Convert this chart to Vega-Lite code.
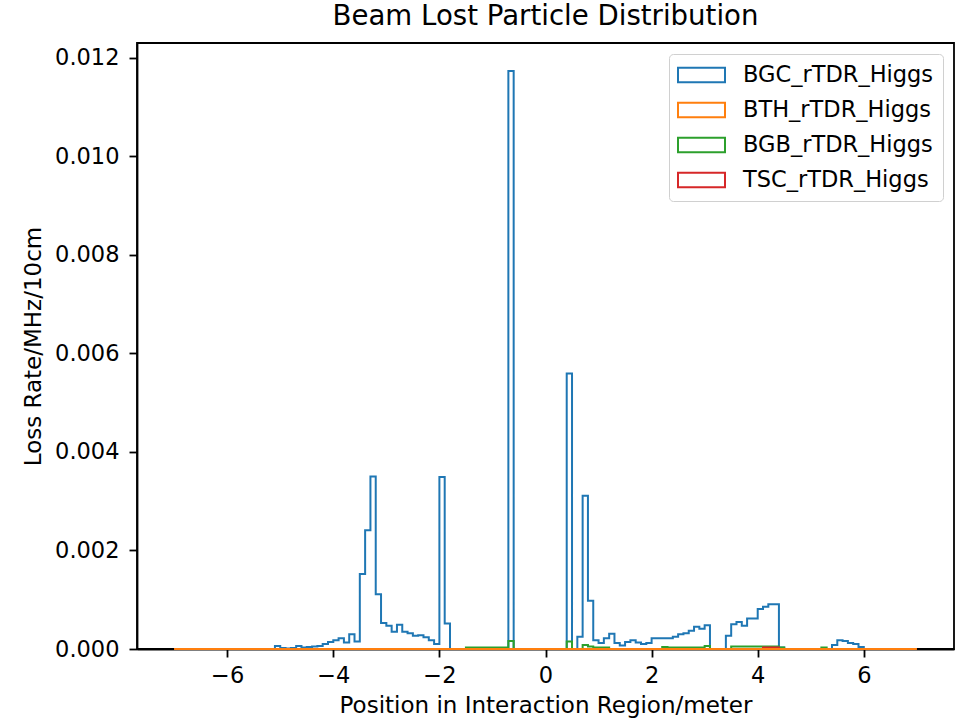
{
"$schema": "https://vega.github.io/schema/vega-lite/v6.json",
"autosize": {"type": "none"},
"padding": {"left": 137, "top": 43, "right": 12, "bottom": 72},
"width": 817,
"height": 606,
"title": {"text": "Beam Lost Particle Distribution", "fontSize": 27.6, "font": "DejaVu Sans", "fontWeight": "normal", "offset": 12, "anchor": "middle", "color": "black"},
"data": {"values": [
{"x":-7.0,"BGC":0,"BTH":0,"BGB":0,"TSC":0},
{"x":-6.9,"BGC":0,"BTH":0,"BGB":0,"TSC":0},
{"x":-6.8,"BGC":0,"BTH":0,"BGB":0,"TSC":0},
{"x":-6.7,"BGC":0,"BTH":0,"BGB":0,"TSC":0},
{"x":-6.6,"BGC":0,"BTH":0,"BGB":0,"TSC":0},
{"x":-6.5,"BGC":0,"BTH":0,"BGB":0,"TSC":0},
{"x":-6.4,"BGC":0,"BTH":0,"BGB":0,"TSC":0},
{"x":-6.3,"BGC":0,"BTH":0,"BGB":0,"TSC":0},
{"x":-6.2,"BGC":0,"BTH":0,"BGB":0,"TSC":0},
{"x":-6.1,"BGC":0,"BTH":0,"BGB":0,"TSC":0},
{"x":-6.0,"BGC":0,"BTH":0,"BGB":0,"TSC":0},
{"x":-5.9,"BGC":0,"BTH":0,"BGB":0,"TSC":0},
{"x":-5.8,"BGC":0,"BTH":0,"BGB":0,"TSC":0},
{"x":-5.7,"BGC":0,"BTH":0,"BGB":0,"TSC":0},
{"x":-5.6,"BGC":0,"BTH":0,"BGB":0,"TSC":0},
{"x":-5.5,"BGC":0,"BTH":0,"BGB":0,"TSC":0},
{"x":-5.4,"BGC":0,"BTH":0,"BGB":0,"TSC":0},
{"x":-5.3,"BGC":0,"BTH":0,"BGB":0,"TSC":0},
{"x":-5.2,"BGC":0,"BTH":0,"BGB":0,"TSC":0},
{"x":-5.1,"BGC":0.00006,"BTH":0,"BGB":0,"TSC":0},
{"x":-5.0,"BGC":0.00002,"BTH":0,"BGB":0,"TSC":0},
{"x":-4.9,"BGC":0.00001,"BTH":0,"BGB":0,"TSC":0},
{"x":-4.8,"BGC":0.00002,"BTH":0,"BGB":0,"TSC":0},
{"x":-4.7,"BGC":0.00006,"BTH":0,"BGB":0,"TSC":0},
{"x":-4.6,"BGC":0.00003,"BTH":0,"BGB":0,"TSC":0},
{"x":-4.5,"BGC":0.00004,"BTH":0,"BGB":0,"TSC":0},
{"x":-4.4,"BGC":0.00005,"BTH":0,"BGB":0,"TSC":0},
{"x":-4.3,"BGC":0.00006,"BTH":0,"BGB":0,"TSC":0},
{"x":-4.2,"BGC":0.0001,"BTH":0,"BGB":0,"TSC":0},
{"x":-4.1,"BGC":0.00014,"BTH":0,"BGB":0,"TSC":0},
{"x":-4.0,"BGC":0.00018,"BTH":0,"BGB":0,"TSC":0},
{"x":-3.9,"BGC":0.00022,"BTH":0,"BGB":0,"TSC":0},
{"x":-3.8,"BGC":0.00013,"BTH":0,"BGB":0,"TSC":0},
{"x":-3.7,"BGC":0.0003,"BTH":0,"BGB":0,"TSC":0},
{"x":-3.6,"BGC":0.00015,"BTH":0,"BGB":0,"TSC":0},
{"x":-3.5,"BGC":0.00152,"BTH":0,"BGB":0,"TSC":0},
{"x":-3.4,"BGC":0.00241,"BTH":0,"BGB":0,"TSC":0},
{"x":-3.3,"BGC":0.0035,"BTH":0,"BGB":0,"TSC":0},
{"x":-3.2,"BGC":0.00111,"BTH":0,"BGB":0,"TSC":0},
{"x":-3.1,"BGC":0.00053,"BTH":0,"BGB":0,"TSC":0},
{"x":-3.0,"BGC":0.00047,"BTH":0,"BGB":0,"TSC":0},
{"x":-2.9,"BGC":0.00035,"BTH":0,"BGB":0,"TSC":0},
{"x":-2.8,"BGC":0.00049,"BTH":0,"BGB":0,"TSC":0},
{"x":-2.7,"BGC":0.00035,"BTH":0,"BGB":0,"TSC":0},
{"x":-2.6,"BGC":0.00032,"BTH":0,"BGB":0,"TSC":0},
{"x":-2.5,"BGC":0.00027,"BTH":0,"BGB":0,"TSC":0},
{"x":-2.4,"BGC":0.00028,"BTH":0,"BGB":0,"TSC":0},
{"x":-2.3,"BGC":0.00024,"BTH":0,"BGB":0,"TSC":0},
{"x":-2.2,"BGC":0.00018,"BTH":0,"BGB":0,"TSC":0},
{"x":-2.1,"BGC":0.0001,"BTH":0,"BGB":0,"TSC":0},
{"x":-2.0,"BGC":0.00349,"BTH":0,"BGB":0,"TSC":0},
{"x":-1.9,"BGC":0.00052,"BTH":0,"BGB":0,"TSC":0},
{"x":-1.8,"BGC":0,"BTH":0,"BGB":0,"TSC":0},
{"x":-1.7,"BGC":0,"BTH":0,"BGB":0,"TSC":0},
{"x":-1.6,"BGC":0,"BTH":0,"BGB":0,"TSC":0},
{"x":-1.5,"BGC":0,"BTH":0,"BGB":0.00003,"TSC":0},
{"x":-1.4,"BGC":0,"BTH":0,"BGB":0.00003,"TSC":0},
{"x":-1.3,"BGC":0,"BTH":0,"BGB":0.00003,"TSC":0},
{"x":-1.2,"BGC":0,"BTH":0,"BGB":0.00003,"TSC":0},
{"x":-1.1,"BGC":0,"BTH":0,"BGB":0.00003,"TSC":0},
{"x":-1.0,"BGC":0,"BTH":0,"BGB":0.00003,"TSC":0},
{"x":-0.9,"BGC":0,"BTH":0,"BGB":0.00003,"TSC":0},
{"x":-0.8,"BGC":0,"BTH":0,"BGB":0.00003,"TSC":0},
{"x":-0.7,"BGC":0.01173,"BTH":0,"BGB":0.00016,"TSC":0},
{"x":-0.6,"BGC":0,"BTH":0,"BGB":0,"TSC":0},
{"x":-0.5,"BGC":0,"BTH":0,"BGB":0,"TSC":0},
{"x":-0.4,"BGC":0,"BTH":0,"BGB":0,"TSC":0},
{"x":-0.3,"BGC":0,"BTH":0,"BGB":0,"TSC":0},
{"x":-0.2,"BGC":0,"BTH":0,"BGB":0,"TSC":0},
{"x":-0.1,"BGC":0,"BTH":0,"BGB":0,"TSC":0},
{"x":0.0,"BGC":0,"BTH":0,"BGB":0,"TSC":0},
{"x":0.1,"BGC":0,"BTH":0,"BGB":0,"TSC":0},
{"x":0.2,"BGC":0,"BTH":0,"BGB":0,"TSC":0},
{"x":0.3,"BGC":0,"BTH":0,"BGB":0,"TSC":0},
{"x":0.4,"BGC":0.00559,"BTH":0,"BGB":0.00015,"TSC":0},
{"x":0.5,"BGC":0,"BTH":0,"BGB":0,"TSC":0},
{"x":0.6,"BGC":0.00025,"BTH":0,"BGB":0,"TSC":0},
{"x":0.7,"BGC":0.00311,"BTH":0,"BGB":0.00008,"TSC":0},
{"x":0.8,"BGC":0.00098,"BTH":0,"BGB":0.00005,"TSC":0},
{"x":0.9,"BGC":0.00018,"BTH":0,"BGB":0.00003,"TSC":0},
{"x":1.0,"BGC":0.00012,"BTH":0,"BGB":0.00003,"TSC":0},
{"x":1.1,"BGC":0.00022,"BTH":0,"BGB":0.00003,"TSC":0},
{"x":1.2,"BGC":0.00031,"BTH":0,"BGB":0,"TSC":0},
{"x":1.3,"BGC":0.00012,"BTH":0,"BGB":0,"TSC":0},
{"x":1.4,"BGC":0.00007,"BTH":0,"BGB":0,"TSC":0},
{"x":1.5,"BGC":0.00014,"BTH":0,"BGB":0,"TSC":0},
{"x":1.6,"BGC":0.00018,"BTH":0,"BGB":0,"TSC":0},
{"x":1.7,"BGC":0.00013,"BTH":0,"BGB":0,"TSC":0},
{"x":1.8,"BGC":0.0001,"BTH":0,"BGB":0,"TSC":0},
{"x":1.9,"BGC":0.00012,"BTH":0,"BGB":0,"TSC":0},
{"x":2.0,"BGC":0.00022,"BTH":0,"BGB":0,"TSC":0},
{"x":2.1,"BGC":0.00022,"BTH":0,"BGB":0,"TSC":0},
{"x":2.2,"BGC":0.00022,"BTH":0,"BGB":0.00004,"TSC":0},
{"x":2.3,"BGC":0.00022,"BTH":0,"BGB":0.00003,"TSC":0},
{"x":2.4,"BGC":0.00025,"BTH":0,"BGB":0.00003,"TSC":0},
{"x":2.5,"BGC":0.0003,"BTH":0,"BGB":0.00003,"TSC":0},
{"x":2.6,"BGC":0.00032,"BTH":0,"BGB":0.00003,"TSC":0},
{"x":2.7,"BGC":0.00037,"BTH":0,"BGB":0.00003,"TSC":0},
{"x":2.8,"BGC":0.00045,"BTH":0,"BGB":0.00003,"TSC":0},
{"x":2.9,"BGC":0.00041,"BTH":0,"BGB":0.00003,"TSC":0},
{"x":3.0,"BGC":0.00048,"BTH":0,"BGB":0.00006,"TSC":0},
{"x":3.1,"BGC":0,"BTH":0,"BGB":0,"TSC":0},
{"x":3.2,"BGC":0,"BTH":0,"BGB":0,"TSC":0},
{"x":3.3,"BGC":0,"BTH":0,"BGB":0,"TSC":0},
{"x":3.4,"BGC":0.00027,"BTH":0,"BGB":0,"TSC":0},
{"x":3.5,"BGC":0.0005,"BTH":0,"BGB":0.00005,"TSC":0},
{"x":3.6,"BGC":0.00055,"BTH":0,"BGB":0.00005,"TSC":0},
{"x":3.7,"BGC":0.00047,"BTH":0,"BGB":0.00005,"TSC":0},
{"x":3.8,"BGC":0.00062,"BTH":0,"BGB":0.00005,"TSC":0},
{"x":3.9,"BGC":0.00062,"BTH":0,"BGB":0.00005,"TSC":0},
{"x":4.0,"BGC":0.00081,"BTH":0,"BGB":0.00005,"TSC":0},
{"x":4.1,"BGC":0.00086,"BTH":0,"BGB":0.00005,"TSC":0.00003},
{"x":4.2,"BGC":0.00091,"BTH":0,"BGB":0.00005,"TSC":0.00003},
{"x":4.3,"BGC":0.00091,"BTH":0,"BGB":0.00005,"TSC":0.00003},
{"x":4.4,"BGC":0.00003,"BTH":0,"BGB":0.00003,"TSC":0},
{"x":4.5,"BGC":0,"BTH":0,"BGB":0,"TSC":0},
{"x":4.6,"BGC":0,"BTH":0,"BGB":0,"TSC":0},
{"x":4.7,"BGC":0,"BTH":0,"BGB":0,"TSC":0},
{"x":4.8,"BGC":0,"BTH":0,"BGB":0,"TSC":0},
{"x":4.9,"BGC":0,"BTH":0,"BGB":0,"TSC":0},
{"x":5.0,"BGC":0,"BTH":0,"BGB":0,"TSC":0},
{"x":5.1,"BGC":0,"BTH":0,"BGB":0,"TSC":0},
{"x":5.2,"BGC":0,"BTH":0,"BGB":0.00003,"TSC":0},
{"x":5.3,"BGC":0,"BTH":0,"BGB":0,"TSC":0},
{"x":5.4,"BGC":0.00008,"BTH":0,"BGB":0,"TSC":0},
{"x":5.5,"BGC":0.00018,"BTH":0,"BGB":0,"TSC":0},
{"x":5.6,"BGC":0.00016,"BTH":0,"BGB":0,"TSC":0},
{"x":5.7,"BGC":0.00012,"BTH":0,"BGB":0,"TSC":0},
{"x":5.8,"BGC":0.0001,"BTH":0,"BGB":0,"TSC":0},
{"x":5.9,"BGC":0.00004,"BTH":0,"BGB":0,"TSC":0},
{"x":6.0,"BGC":0,"BTH":0,"BGB":0,"TSC":0},
{"x":6.1,"BGC":0,"BTH":0,"BGB":0,"TSC":0},
{"x":6.2,"BGC":0,"BTH":0,"BGB":0,"TSC":0},
{"x":6.3,"BGC":0,"BTH":0,"BGB":0,"TSC":0},
{"x":6.4,"BGC":0,"BTH":0,"BGB":0,"TSC":0},
{"x":6.5,"BGC":0,"BTH":0,"BGB":0,"TSC":0},
{"x":6.6,"BGC":0,"BTH":0,"BGB":0,"TSC":0},
{"x":6.7,"BGC":0,"BTH":0,"BGB":0,"TSC":0},
{"x":6.8,"BGC":0,"BTH":0,"BGB":0,"TSC":0},
{"x":6.9,"BGC":0,"BTH":0,"BGB":0,"TSC":0},
{"x":7.0,"BGC":0,"BTH":0,"BGB":0,"TSC":0}
]},
"transform": [{"fold": ["BGC", "BTH", "BGB", "TSC"], "as": ["series", "value"]}],
"encoding": {
  "x": {"field": "x", "type": "quantitative", "scale": {"domain": [-7.7, 7.7], "nice": false, "zero": false},
        "axis": {"values": [-6, -4, -2, 0, 2, 4, 6], "title": "Position in Interaction Region/meter", "labelExpr": "replace(datum.label, '-', '\u2212')", "titlePadding": 8, "labelPadding": 7}},
  "y": {"field": "value", "type": "quantitative", "scale": {"domain": [0, 0.0123], "nice": false},
        "axis": {"values": [0, 0.002, 0.004, 0.006, 0.008, 0.01, 0.012], "format": ".3f", "title": "Loss Rate/MHz/10cm", "titlePadding": 9, "labelPadding": 10}},
  "color": {"field": "series", "type": "nominal",
            "scale": {"domain": ["BGC", "BTH", "BGB", "TSC"], "range": ["#1f77b4", "#ff7f0e", "#2ca02c", "#d62728"]},
            "legend": {"title": null, "labelExpr": "datum.label + '_rTDR_Higgs'"}}
},
"layer": [
  {"transform": [{"filter": "datum.series == 'BGC'"}], "mark": {"type": "line", "interpolate": "step-after", "strokeWidth": 2}},
  {"transform": [{"filter": "datum.series == 'BGB'"}], "mark": {"type": "line", "interpolate": "step-after", "strokeWidth": 2}},
  {"transform": [{"filter": "datum.series == 'TSC'"}], "mark": {"type": "line", "interpolate": "step-after", "strokeWidth": 2}},
  {"transform": [{"filter": "datum.series == 'BTH'"}], "mark": {"type": "line", "interpolate": "step-after", "strokeWidth": 2}}
],
"config": {
  "font": "DejaVu Sans",
  "view": {"stroke": "black", "strokeWidth": 1.8},
  "axis": {"labelFont": "DejaVu Sans", "titleFont": "DejaVu Sans", "labelFontSize": 22.5, "titleFontSize": 23, "titleFontWeight": "normal",
           "labelColor": "black", "titleColor": "black", "tickColor": "black", "domainColor": "black", "tickSize": 8, "tickWidth": 1.8,
           "domainWidth": 1.8, "grid": false, "zindex": 1},
  "legend": {"orient": "top-right", "offset": 11, "labelFont": "DejaVu Sans", "labelFontSize": 22.5, "labelColor": "black", "labelLimit": 0,
             "symbolType": "M-2.136,-0.664H2.136V0.664H-2.136Z", "symbolSize": 484, "symbolStrokeWidth": 2, "symbolFillColor": "white",
             "symbolOffset": 11.5, "labelOffset": 29.5, "rowPadding": 11, "padding": 9, "strokeColor": "#d0d0d0", "fillColor": "white", "cornerRadius": 4}
}
}
